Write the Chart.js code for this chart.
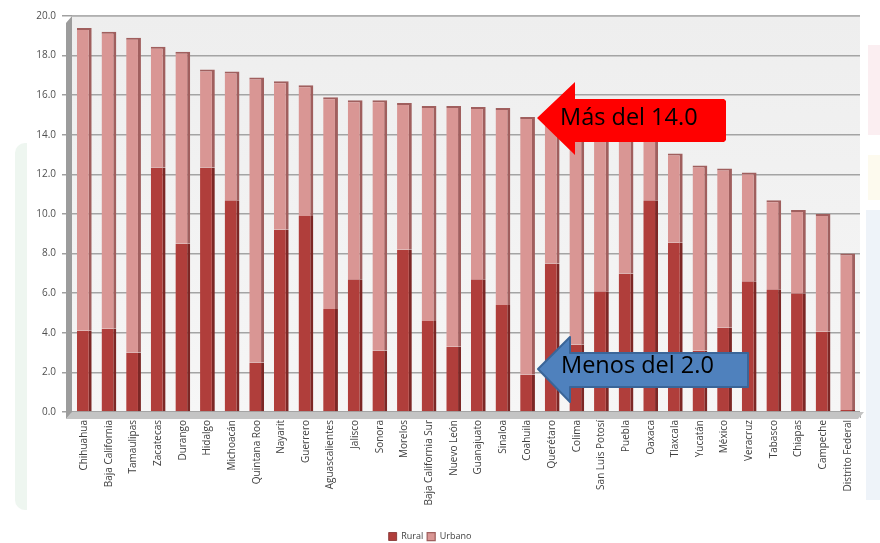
<!DOCTYPE html>
<html>
<head>
<meta charset="utf-8">
<script src="https://cdn.jsdelivr.net/npm/chart.js@4/dist/chart.umd.min.js"></script>
<style>
  html, body { margin: 0; padding: 0; background: #ffffff; }
  #wrap { position: relative; width: 880px; height: 543px; overflow: hidden; background: #ffffff; }
  #c { position: absolute; left: 0; top: 0; }
  .deco { position: absolute; }
  #overlay { position: absolute; left: 0; top: 0; pointer-events: none; }
</style>
</head>
<body>
<div id="wrap">
  <div class="deco" style="left:15px;top:143px;width:12px;height:367px;background:#eef6f0;border-radius:10px 0 0 10px;"></div>
  <div class="deco" style="left:868px;top:45px;width:12px;height:90px;background:#fbeef1;"></div>
  <div class="deco" style="left:868px;top:155px;width:12px;height:45px;background:#fdfaee;"></div>
  <div class="deco" style="left:866px;top:210px;width:14px;height:290px;background:#eef3f9;"></div>
  <canvas id="c" width="880" height="543"></canvas>
  <svg id="overlay" width="880" height="543" xmlns="http://www.w3.org/2000/svg">
    <polygon points="537,118 575,82 575,99 724,99 726,101 726,140 724,142 575,142 575,155" fill="#ff0000"/>
    <text x="560" y="125" font-family="Open Sans" font-size="23.5" fill="#000000">Más del 14.0</text>
    <polygon points="538,369 570,337 570,353 748,353 748,387 570,387 570,402" fill="#4f81bd" stroke="#3a6598" stroke-width="2" stroke-linejoin="round"/>
    <text x="561" y="373" font-family="Open Sans" font-size="23.5" fill="#000000">Menos del 2.0</text>
  </svg>
</div>
<script>
const categories = ["Chihuahua","Baja California","Tamaulipas","Zacatecas","Durango","Hidalgo","Michoacán","Quintana Roo","Nayarit","Guerrero","Aguascalientes","Jalisco","Sonora","Morelos","Baja California Sur","Nuevo León","Guanajuato","Sinaloa","Coahuila","Querétaro","Colima","San Luis Potosí","Puebla","Oaxaca","Tlaxcala","Yucatán","México","Veracruz","Tabasco","Chiapas","Campeche","Distrito Federal"];
const rural  = [4.1, 4.2, 3.0, 12.35, 8.5, 12.35, 10.7, 2.5, 9.2, 9.9, 5.2, 6.7, 3.1, 8.2, 4.6, 3.3, 6.7, 5.4, 1.9, 7.5, 3.4, 6.1, 7.0, 10.7, 8.55, 3.1, 4.25, 6.6, 6.2, 6.0, 4.05, 0.1];
const urbano = [15.3, 15.0, 15.9, 6.1, 9.7, 4.95, 6.5, 14.4, 7.5, 6.6, 10.7, 9.05, 12.65, 7.4, 10.85, 12.15, 8.7, 9.95, 13.0, 7.3, 11.1, 8.3, 7.3, 3.4, 4.5, 9.35, 8.05, 5.5, 4.5, 4.2, 5.95, 7.9];
const yTicks = [0, 2, 4, 6, 8, 10, 12, 14, 16, 18, 20];
const seriesNames = ["Rural", "Urbano"];

const plot3d = {
  id: 'plot3d',
  beforeDraw(chart) {
    const {ctx, chartArea: a} = chart;
    ctx.save();
    const g = ctx.createLinearGradient(0, a.top, 0, a.bottom);
    g.addColorStop(0, '#eeeeee');
    g.addColorStop(1, '#f6f6f6');
    ctx.fillStyle = g;
    ctx.fillRect(a.left, a.top, a.right - a.left, a.bottom - a.top);
    ctx.restore();
  },
  beforeDatasetsDraw(chart) {
    const {ctx, chartArea: a} = chart;
    ctx.save();
    ctx.fillStyle = '#c4c4c4';
    ctx.beginPath();
    ctx.moveTo(a.left, a.bottom);
    ctx.lineTo(a.right + 4, a.bottom);
    ctx.lineTo(a.right - 2, a.bottom + 7);
    ctx.lineTo(a.left - 6, a.bottom + 7);
    ctx.closePath();
    ctx.fill();
    ctx.fillStyle = '#9c9c9c';
    ctx.beginPath();
    ctx.moveTo(a.left, a.top);
    ctx.lineTo(a.left, a.bottom);
    ctx.lineTo(a.left - 6, a.bottom + 7);
    ctx.lineTo(a.left - 6, a.top + 7);
    ctx.closePath();
    ctx.fill();
    ctx.strokeStyle = '#b4b4b4';
    ctx.lineWidth = 1.5;
    ctx.beginPath();
    ctx.moveTo(a.left, a.top);
    ctx.lineTo(a.right, a.top);
    ctx.stroke();
    ctx.restore();
  }
};

new Chart(document.getElementById('c'), {
  type: 'bar',
  data: {
    labels: categories,
    datasets: [
      {
        label: seriesNames[0],
        data: rural,
        backgroundColor: '#b03e3b',
        borderColor: '#7c2725',
        borderWidth: {top: 0, right: 3, bottom: 0, left: 0},
        borderSkipped: false,
        barPercentage: 0.6,
        categoryPercentage: 1.0
      },
      {
        label: seriesNames[1],
        data: urbano,
        backgroundColor: '#d99694',
        borderColor: '#a05f5e',
        borderWidth: {top: 2, right: 3, bottom: 0, left: 0},
        borderSkipped: false,
        barPercentage: 0.6,
        categoryPercentage: 1.0
      }
    ]
  },
  options: {
    responsive: false,
    animation: false,
    layout: { padding: { top: 16, right: 20, bottom: -8, left: 0 } },
    plugins: {
      legend: {
        position: 'bottom',
        labels: {
          boxWidth: 8, boxHeight: 8, padding: 4,
          color: '#404040',
          font: { family: 'Open Sans', size: 9 }
        }
      },
      tooltip: { enabled: false }
    },
    scales: {
      x: {
        stacked: true,
        afterFit(scale) { scale.height = 116; },
        grid: { display: true, drawOnChartArea: false, drawTicks: true, tickLength: 6, offset: true, color: '#b0b0b0' },
        border: { display: false },
        ticks: {
          autoSkip: false, minRotation: 90, maxRotation: 90, padding: 2,
          color: '#404040',
          font: { family: 'Open Sans', size: 10 }
        }
      },
      y: {
        stacked: true,
        min: 0, max: 20,
        afterFit(scale) { scale.width = 72; },
        afterBuildTicks(scale) { scale.ticks = yTicks.map(v => ({ value: v })); },
        grid: { color: '#a4a4a4', lineWidth: 1.5, drawTicks: true, tickLength: 10, tickColor: '#a0a0a0' },
        border: { display: false },
        ticks: {
          padding: 6,
          color: '#505050',
          font: { family: 'Open Sans', size: 10 },
          callback: v => Number(v).toFixed(1)
        }
      }
    }
  },
  plugins: [plot3d]
});
</script>
</body>
</html>
